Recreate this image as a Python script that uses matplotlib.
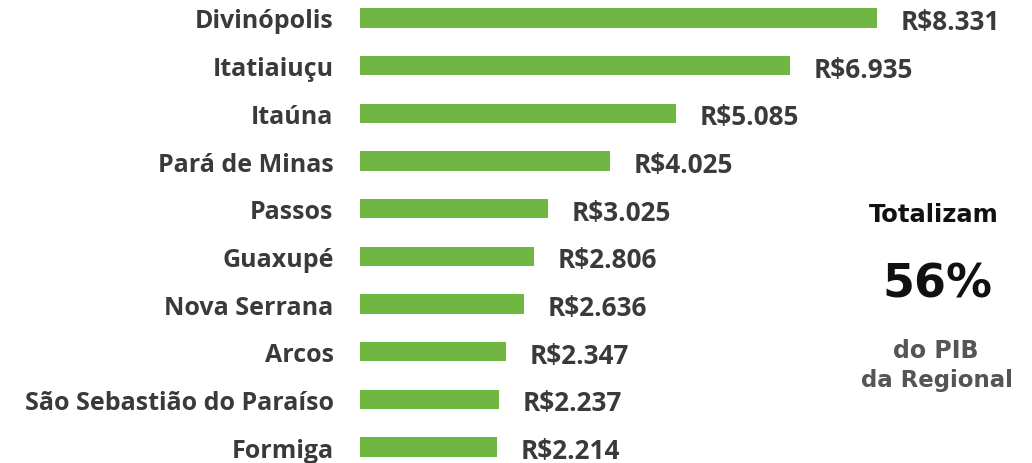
import matplotlib
matplotlib.use("Agg")
import matplotlib.pyplot as plt

cities = ["Divinópolis", "Itatiaiuçu", "Itaúna", "Pará de Minas", "Passos",
          "Guaxupé", "Nova Serrana", "Arcos", "São Sebastião do Paraíso", "Formiga"]
values = [8.331, 6.935, 5.085, 4.025, 3.025, 2.806, 2.636, 2.347, 2.237, 2.214]
labels = ["R$8.331", "R$6.935", "R$5.085", "R$4.025", "R$3.025",
          "R$2.806", "R$2.636", "R$2.347", "R$2.237", "R$2.214"]

GREEN = "#6FB643"
DARK = "#3A3A3A"
FONT = ["Open Sans", "DejaVu Sans"]

W, H = 1032, 464
fig = plt.figure(figsize=(W / 100, H / 100), dpi=100)
ax = fig.add_axes([360 / W, 0, 1 - 360 / W, 1])

pos = list(range(len(cities)))
ax.barh(pos, values, height=0.40, color=GREEN)
ax.set_xlim(0, (W - 360) / 62.06)
ax.set_ylim((H - 19) / 47.67, -19 / 47.67)

ax.set_yticks(pos)
ax.set_yticklabels(cities, fontsize=18, fontweight="bold", color=DARK, family=FONT)
ax.tick_params(axis="y", length=0, pad=19)
ax.set_xticks([])
for s in ax.spines.values():
    s.set_visible(False)

for p, v, t in zip(pos, values, labels):
    ax.annotate(t, (v, p), xytext=(17, -2.6), textcoords="offset points",
                va="center", ha="left", fontsize=18.8, fontweight="bold",
                color=DARK, family=FONT)

fig.text(934 / W, 1 - 215 / H, "Totalizam", ha="center", va="center",
         fontsize=17.5, fontweight="bold", color="#111111", family="DejaVu Sans")
fig.text(937.5 / W, 1 - 285 / H, "56%", ha="center", va="center",
         fontsize=33, fontweight="bold", color="#111111", family="DejaVu Sans")
fig.text(935.5 / W, 1 - 351.5 / H, "do PIB", ha="center", va="center",
         fontsize=17, fontweight="bold", color="#555555", family="DejaVu Sans")
fig.text(937 / W, 1 - 380 / H, "da Regional", ha="center", va="center",
         fontsize=16.5, fontweight="bold", color="#555555", family="DejaVu Sans")

fig.savefig("out.png", dpi=100)
